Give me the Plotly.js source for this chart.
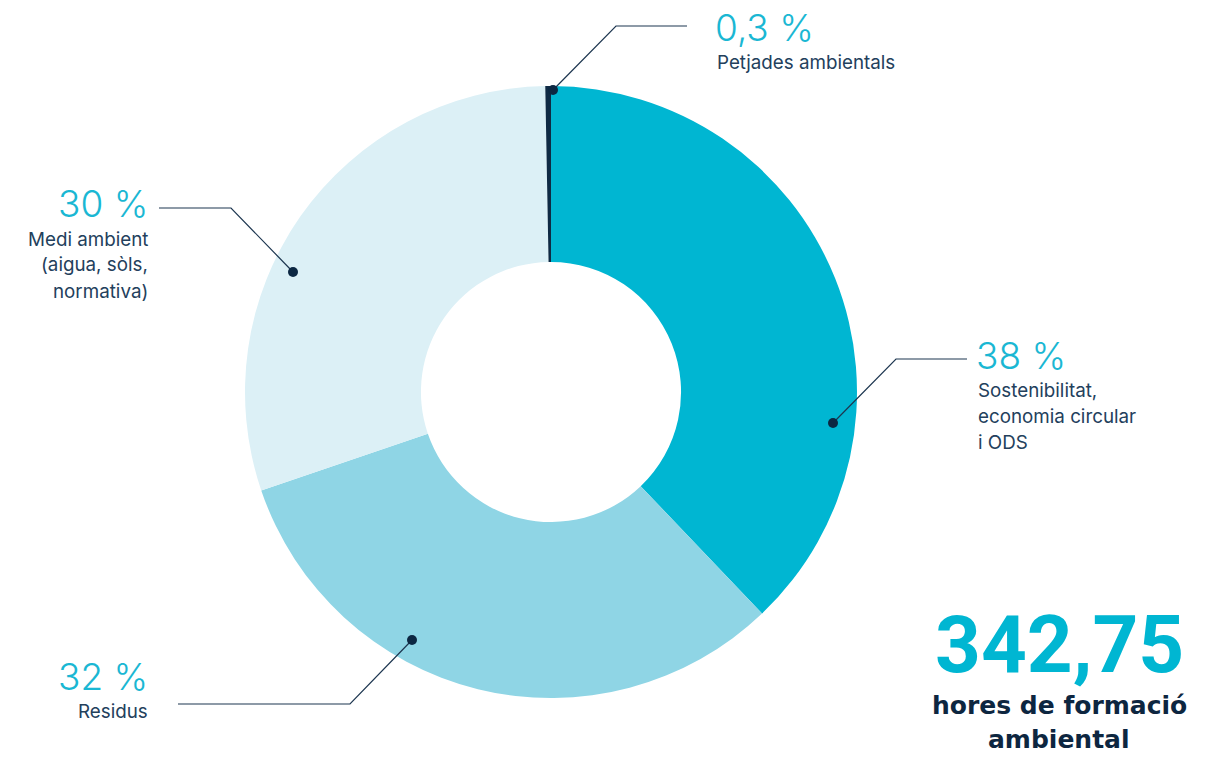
<!DOCTYPE html>
<html>
<head>
<meta charset="utf-8">
<script src="https://cdn.plot.ly/plotly-3.0.1.min.js"></script>
<style>html,body{margin:0;padding:0;background:#fff;}#chart{width:1224px;height:757px;}</style>
</head>
<body>
<div id="chart"></div>
<script>
// ---- data ----
const categories = ["Sostenibilitat, economia circular i ODS", "Residus", "Medi ambient (aigua, sòls, normativa)", "Petjades ambientals"];
const values = [38, 32, 30, 0.3];
const percentLabels = ["38 %", "32 %", "30 %", "0,3 %"];
const labelLines = [
  ["Sostenibilitat,", "economia circular", "i ODS"],
  ["Residus"],
  ["Medi ambient", "(aigua, sòls,", "normativa)"],
  ["Petjades ambientals"]
];
const sliceColors = ["#00b6d2", "#8fd5e5", "#dcf0f6", "#0f2a44"];
const totalHours = "342,75";
const totalLines = ["hores de formació", "ambiental"];

// ---- layout helpers (pixel -> paper) ----
const W = 1224, H = 757;
const px = x => x / W;
const py = y => 1 - y / H;

const cx = 551, cy = 392, R = 306;

const place = [
  {pctX: 974, lblX: 976, anchor: "left", pctY: 355, lineY: [390, 416, 442.5],
   path: [[967, 359], [896, 359], [833, 423]]},
  {pctX: 150, lblX: 150, anchor: "right", pctY: 676, lineY: [711],
   path: [[178, 704], [350, 704], [412, 640]]},
  {pctX: 150, lblX: 150, anchor: "right", pctY: 203.5, lineY: [239.5, 265, 291.5],
   path: [[159, 208], [231, 208], [293, 272]]},
  {pctX: 713, lblX: 715, anchor: "left", pctY: 28, lineY: [62.5],
   path: [[687, 26], [616, 26], [553, 90]]}
];

const annotations = [];
const shapes = [];
const teal = "#1ab7d3";
const navyText = "#23405c";
const lineColor = "#1d3650";

place.forEach((p, i) => {
  annotations.push({
    xref: "paper", yref: "paper", x: px(p.pctX), y: py(p.pctY),
    xanchor: p.anchor, yanchor: "middle", showarrow: false,
    text: percentLabels[i],
    font: {family: "Inter, 'Noto Sans', sans-serif", size: 37, weight: 300, color: teal}
  });
  labelLines[i].forEach((ln, j) => {
    annotations.push({
      xref: "paper", yref: "paper", x: px(p.lblX), y: py(p.lineY[j]),
      xanchor: p.anchor, yanchor: "middle", showarrow: false,
      text: ln,
      font: {family: "Inter, 'Noto Sans', sans-serif", size: 18.8, weight: 400, color: navyText}
    });
  });
  const d = p.path.map((pt, k) => (k === 0 ? "M " : "L ") + px(pt[0]) + "," + py(pt[1])).join(" ");
  shapes.push({type: "path", xref: "paper", yref: "paper", path: d,
    line: {color: lineColor, width: 1.2}});
  const dot = p.path[p.path.length - 1];
  const r = 5;
  shapes.push({type: "circle", xref: "paper", yref: "paper",
    x0: px(dot[0] - r), x1: px(dot[0] + r), y0: py(dot[1] + r), y1: py(dot[1] - r),
    fillcolor: "#0c2742", line: {width: 0}});
});

// big total
annotations.push({
  xref: "paper", yref: "paper", x: px(1059), y: py(644.5),
  xanchor: "center", yanchor: "middle", showarrow: false,
  text: totalHours,
  font: {family: "Roboto, sans-serif", size: 80, weight: 700, color: "#00b6d2"}
});
const totalY = [705, 739];
totalLines.forEach((t, j) => {
  annotations.push({
    xref: "paper", yref: "paper", x: px(1059), y: py(totalY[j]),
    xanchor: "center", yanchor: "middle", showarrow: false,
    text: t,
    font: {family: "'DejaVu Sans', sans-serif", size: 25, weight: 700, color: "#0d2640"}
  });
});

const trace = {
  type: "pie",
  labels: categories,
  values: values,
  sort: false,
  direction: "clockwise",
  rotation: 0,
  hole: 0.425,
  textinfo: "none",
  hoverinfo: "none",
  marker: {colors: sliceColors, line: {width: 0}},
  domain: {x: [px(cx - R), px(cx + R)], y: [py(cy + R), py(cy - R)]},
  showlegend: false
};

const layout = {
  width: W, height: H,
  margin: {l: 0, r: 0, t: 0, b: 0},
  paper_bgcolor: "#ffffff",
  plot_bgcolor: "#ffffff",
  showlegend: false,
  annotations: annotations,
  shapes: shapes
};

Plotly.newPlot("chart", [trace], layout, {displayModeBar: false, staticPlot: true});
</script>
</body>
</html>
